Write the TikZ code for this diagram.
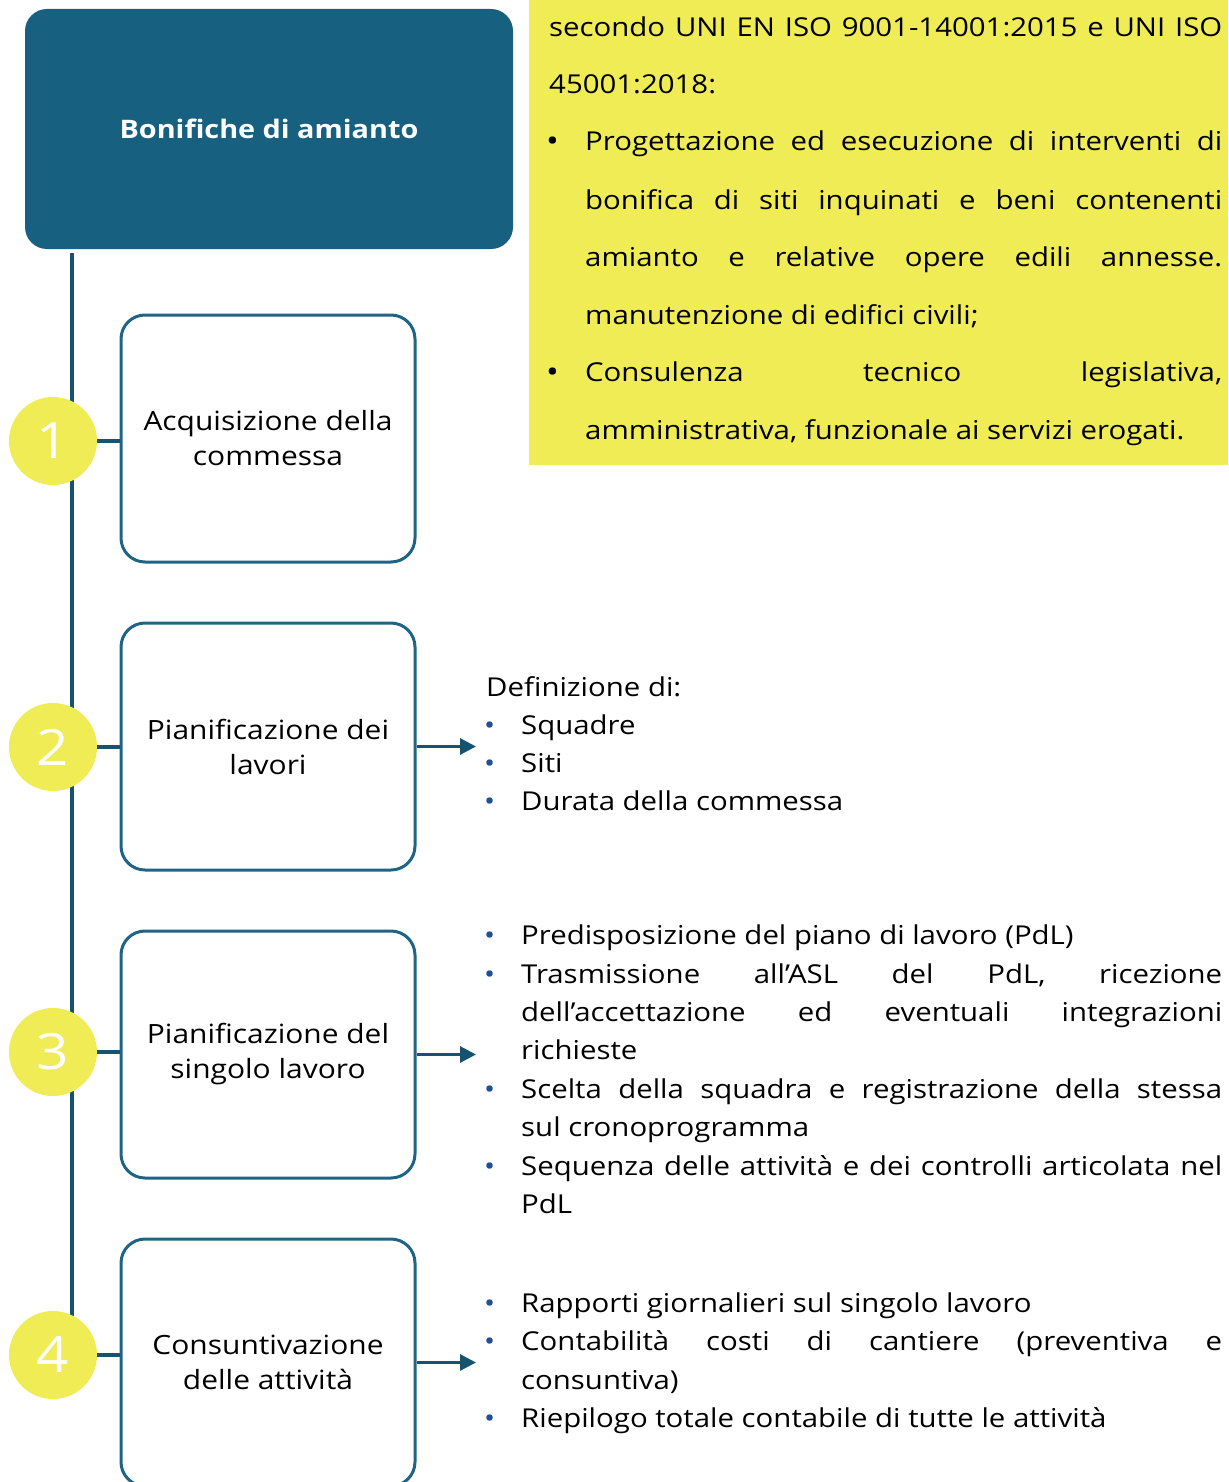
\documentclass[tikz,border=0pt]{standalone}
\usepackage{fontspec}
\setmainfont{Open Sans}[FakeStretch=1.13]
\usetikzlibrary{arrows.meta}
\definecolor{titleblue}{RGB}{23,96,128}
\definecolor{boxblue}{RGB}{31,100,133}
\definecolor{lineblue}{RGB}{21,84,112}
\definecolor{yel}{RGB}{239,236,85}
\definecolor{bulblue}{RGB}{31,78,154}
\newcommand{\jr}[1]{\makebox[701pt][s]{#1}}
\newcommand{\jy}[1]{\makebox[637pt][s]{#1}}
\begin{document}
\begin{tikzpicture}[x=1pt,y=-1pt,
  stepbox/.style={draw=boxblue, line width=3pt, rounded corners=24pt, fill=white,
    minimum width=294pt, minimum height=247pt, align=center, inner sep=0pt,
    font=\fontsize{26.5}{35}\selectfont},
  numcirc/.style={circle, fill=yel, minimum size=88pt, inner sep=0pt, text=white,
    font=\fontsize{50}{50}\selectfont},
  ln/.style={anchor=base west, inner sep=0pt, font=\fontsize{26}{30}\selectfont},
  bul/.style={anchor=base west, inner sep=0pt, text=bulblue, font=\fontsize{26}{30}\selectfont},
  ybul/.style={anchor=base west, inner sep=0pt, font=\fontsize{30}{30}\selectfont},
  conn/.style={draw=lineblue, line width=4pt},
  arr/.style={draw=lineblue, line width=3pt, -{Triangle[length=16pt,width=16pt]}}]
\useasboundingbox (0,0) rectangle (1228,1482);
\begin{scope}
\clip (0,0) rectangle (1228,1482);
% title
\node[fill=titleblue, rounded corners=22pt, minimum width=488pt, minimum height=240pt,
  text=white, font=\bfseries\fontsize{25.5}{30}\selectfont] (T) at (269,129) {Bonifiche di amianto};
% yellow box
\node[fill=yel, anchor=north west, minimum width=699pt, minimum height=465pt, inner sep=0pt] (Y) at (529,0) {};
\node[ln] (y1) at (549,37) {\makebox[673pt][s]{secondo UNI EN ISO 9001-14001:2015 e UNI ISO}};
\node[ln] (y2) at (549,94) {45001:2018:};
\node[ybul] (yb1) at (546,152) {•};
\node[ln] (y3) at (585,151) {\jy{Progettazione ed esecuzione di interventi di}};
\node[ln] (y4) at (585,209) {\jy{bonifica di siti inquinati e beni contenenti}};
\node[ln] (y5) at (585,266) {\jy{amianto e relative opere edili annesse.}};
\node[ln] (y6) at (585,324) {manutenzione di edifici civili;};
\node[ybul] (yb2) at (546,382) {•};
\node[ln] (y7) at (585,381) {\jy{Consulenza tecnico legislativa,}};
\node[ln] (y8) at (585,439) {amministrativa, funzionale ai servizi erogati.};
% vertical line
\coordinate (vtop) at (72,253);
\coordinate (vbot) at (72,1355);
\draw[conn] (vtop) -- (vbot);
% boxes
\node[stepbox] (b1) at (268,438.5) {Acquisizione della\\commessa};
\node[stepbox] (b2) at (268,746.5) {Pianificazione dei\\lavori};
\node[stepbox] (b3) at (268,1054.5) {Pianificazione del\\singolo lavoro};
\node[stepbox] (b4) at (268,1362.5) {Consuntivazione\\delle attività};
% circles
\node[numcirc] (c1) at (53,441) {1};
\node[numcirc] (c2) at (53,747) {2};
\node[numcirc] (c3) at (53,1052) {3};
\node[numcirc] (c4) at (53,1355) {4};
\draw[conn] (c1.east) -- (c1.east -| b1.west);
\draw[conn] (c2.east) -- (c2.east -| b2.west);
\draw[conn] (c3.east) -- (c3.east -| b3.west);
\draw[conn] (c4.east) -- (c4.east -| b4.west);
% arrows
\coordinate (a2) at (476,746.5);
\coordinate (a3) at (476,1054.5);
\coordinate (a4) at (476,1362.5);
\draw[arr] (b2.east) -- (a2);
\draw[arr] (b3.east) -- (a3);
\draw[arr] (b4.east) -- (a4);
% block 2
\node[ln] (d0) at (486,696) {Definizione di:};
\node[bul] (db1) at (484,734) {•};
\node[ln] (d1) at (521,734) {Squadre};
\node[bul] (db2) at (484,772) {•};
\node[ln] (d2) at (521,772) {Siti};
\node[bul] (db3) at (484,810) {•};
\node[ln] (d3) at (521,810) {Durata della commessa};
% block 3
\node[bul] (pb1) at (484,944) {•};
\node[ln] (p1) at (521,944) {Predisposizione del piano di lavoro (PdL)};
\node[bul] (pb2) at (484,983) {•};
\node[ln] (p2) at (521,983) {\jr{Trasmissione all’ASL del PdL, ricezione}};
\node[ln] (p3) at (521,1021) {\jr{dell’accettazione ed eventuali integrazioni}};
\node[ln] (p4) at (521,1059) {richieste};
\node[bul] (pb3) at (484,1098) {•};
\node[ln] (p5) at (521,1098) {\jr{Scelta della squadra e registrazione della stessa}};
\node[ln] (p6) at (521,1136) {sul cronoprogramma};
\node[bul] (pb4) at (484,1175) {•};
\node[ln] (p7) at (521,1175) {\jr{Sequenza delle attività e dei controlli articolata nel}};
\node[ln] (p8) at (521,1213) {PdL};
% block 4
\node[bul] (rb1) at (484,1312) {•};
\node[ln] (r1) at (521,1312) {Rapporti giornalieri sul singolo lavoro};
\node[bul] (rb2) at (484,1350) {•};
\node[ln] (r2) at (521,1350) {\jr{Contabilità costi di cantiere (preventiva e}};
\node[ln] (r3) at (521,1389) {consuntiva)};
\node[bul] (rb3) at (484,1427) {•};
\node[ln] (r4) at (521,1427) {Riepilogo totale contabile di tutte le attività};
\end{scope}
\end{tikzpicture}
\end{document}
